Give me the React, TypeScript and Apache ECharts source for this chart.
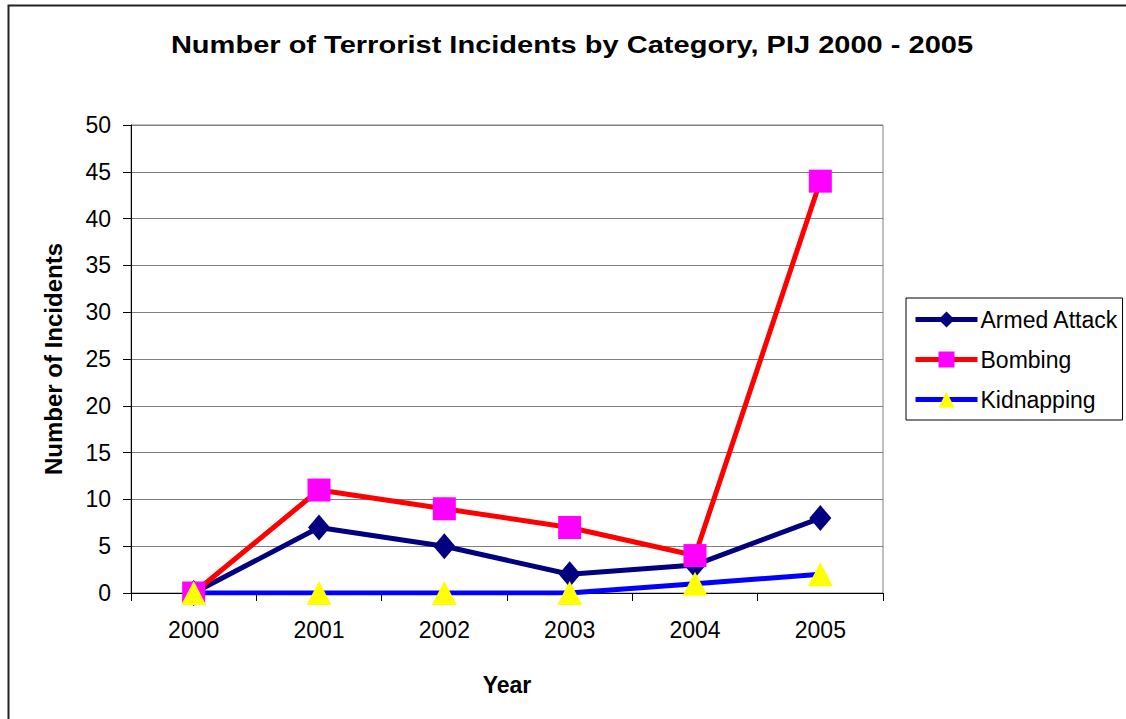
import React, { useEffect, useRef } from "react";
import * as echarts from "echarts";

const years = ["2000", "2001", "2002", "2003", "2004", "2005"];
const armedAttack = [0, 7, 5, 2, 3, 8];
const bombing = [0, 11, 9, 7, 4, 44];
const kidnapping = [0, 0, 0, 0, 1, 2];

const FONT = "'Liberation Sans', Arial, sans-serif";

export default function App() {
  const ref = useRef<HTMLDivElement>(null);
  useEffect(() => {
    document.body.style.margin = "0";
    const chart = echarts.init(ref.current!, null, { renderer: "svg" });
    chart.setOption({
      animation: false,
      backgroundColor: "#fff",
      textStyle: { fontFamily: FONT, color: "#000" },
      graphic: [
        {
          type: "rect",
          shape: { x: 8.5, y: 5.5, width: 1300, height: 900 },
          style: { fill: "none", stroke: "#222", lineWidth: 2 },
          silent: true,
        },
        {
          type: "text",
          x: 572,
          y: 45,
          scaleX: 1.21,
          style: {
            text: "Number of Terrorist Incidents by Category, PIJ 2000 - 2005",
            fontFamily: FONT,
            fontSize: 24,
            fontWeight: "bold",
            fill: "#000",
            textAlign: "center",
            textVerticalAlign: "middle",
          },
        },
      ],
      grid: {
        left: 131,
        right: 243,
        top: 125,
        bottom: 126,
        show: true,
        borderColor: "#808080",
        borderWidth: 1,
        backgroundColor: "transparent",
      },
      legend: {
        orient: "vertical",
        left: 906,
        top: 298,
        borderColor: "#000",
        borderWidth: 1,
        padding: [10, 4, 9, 7],
        itemWidth: 62,
        itemHeight: 20,
        itemGap: 17,
        lineStyle: { width: 5 },
        textStyle: { fontFamily: FONT, fontSize: 23, color: "#000", padding: [0, 0, 0, -2] },
        data: ["Armed Attack", "Bombing", "Kidnapping"],
      },
      xAxis: {
        type: "category",
        data: years,
        boundaryGap: true,
        name: "Year",
        nameLocation: "middle",
        nameGap: 80,
        nameTextStyle: { fontFamily: FONT, fontSize: 23, fontWeight: "bold", color: "#000" },
        axisLine: { show: true, lineStyle: { color: "#000", width: 1 } },
        axisTick: { show: true, length: 8, alignWithLabel: false, lineStyle: { color: "#000" } },
        axisLabel: { fontFamily: FONT, fontSize: 23, color: "#000", margin: 25 },
        splitLine: { show: false },
      },
      yAxis: {
        type: "value",
        min: 0,
        max: 50,
        interval: 5,
        name: "Number of Incidents",
        nameLocation: "middle",
        nameGap: 66,
        nameRotate: 90,
        nameTextStyle: { fontFamily: FONT, fontSize: 24, fontWeight: "bold", color: "#000" },
        axisLine: { show: true, lineStyle: { color: "#000", width: 1 } },
        axisTick: { show: true, length: 8, lineStyle: { color: "#000" } },
        axisLabel: { fontFamily: FONT, fontSize: 23, color: "#000", margin: 20 },
        splitLine: { show: true, lineStyle: { color: "#808080", width: 1 } },
      },
      series: [
        {
          name: "Armed Attack",
          type: "line",
          data: armedAttack,
          symbol: "diamond",
          symbolSize: [22, 26],
          lineStyle: { color: "#000080", width: 5 },
          itemStyle: { color: "#000080" },
        },
        {
          name: "Bombing",
          type: "line",
          data: bombing,
          symbol: "rect",
          symbolSize: 23,
          lineStyle: { color: "#ff0000", width: 5 },
          itemStyle: { color: "#ff00ff" },
        },
        {
          name: "Kidnapping",
          type: "line",
          data: kidnapping,
          symbol: "triangle",
          symbolSize: [25, 24],
          lineStyle: { color: "#0000ff", width: 5 },
          itemStyle: { color: "#ffff00" },
        },
      ],
    });
    return () => chart.dispose();
  }, []);
  return <div ref={ref} style={{ width: 1126, height: 719 }} />;
}
